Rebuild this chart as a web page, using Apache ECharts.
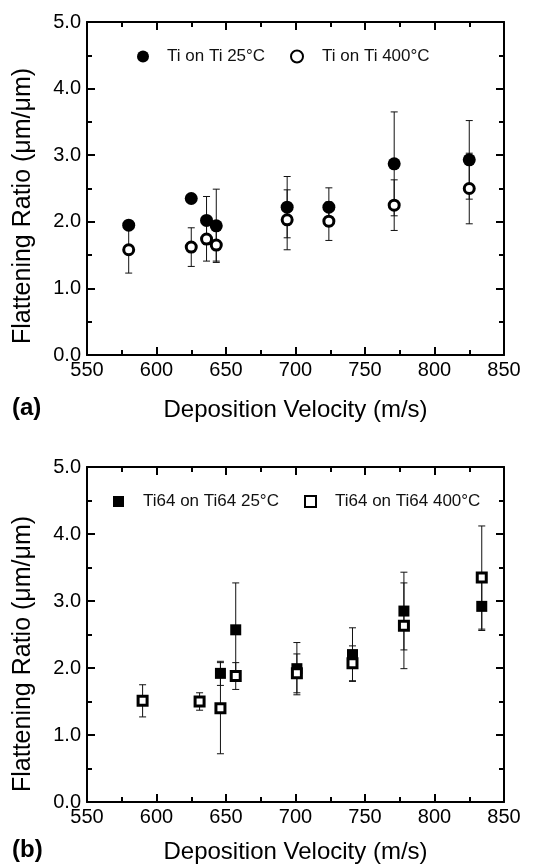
<!DOCTYPE html>
<html>
<head>
<meta charset="utf-8">
<script src="https://cdn.jsdelivr.net/npm/echarts@6/dist/echarts.min.js"></script>
<style>
  html, body { margin: 0; padding: 0; background: #fff; }
  #chart { width: 548px; height: 867px; }
</style>
</head>
<body>
<div id="chart"></div>
<script>
// (a) Ti on Ti
const tiVel = [580, 625, 636, 643, 694, 724, 771, 825];
const tiRatio25 = [1.95, 2.35, 2.02, 1.94, 2.22, 2.22, 2.87, 2.93];
const tiErr25 = [0.05, 0.05, 0.36, 0.55, 0.46, 0.29, 0.78, 0.59];
const tiRatio400 = [1.58, 1.62, 1.74, 1.65, 2.03, 2.01, 2.25, 2.50];
const tiErr400 = [0.35, 0.29, 0.33, 0.24, 0.45, 0.29, 0.38, 0.53];

// (b) Ti64 on Ti64
const ti64Vel25 = [646, 657, 701, 741, 778, 834];
const ti64Ratio25 = [1.92, 2.57, 1.99, 2.20, 2.85, 2.92];
const ti64Err25 = [0.18, 0.70, 0.39, 0.40, 0.58, 0.36];
const ti64Vel400 = [590, 631, 646, 657, 701, 741, 778, 834];
const ti64Ratio400 = [1.51, 1.50, 1.40, 1.88, 1.92, 2.07, 2.63, 3.35];
const ti64Err400 = [0.24, 0.13, 0.68, 0.20, 0.29, 0.26, 0.64, 0.77];

const names = ['Ti on Ti 25°C', 'Ti on Ti 400°C', 'Ti64 on Ti64 25°C', 'Ti64 on Ti64 400°C'];
const xTitle = 'Deposition Velocity (m/s)';
const yTitle = 'Flattening Ratio (μm/μm)';

const font = 'Liberation Sans, Arial, sans-serif';

const pts = (xs, ys) => xs.map((x, i) => [x, ys[i]]);
const bars = (xs, ys, es) => xs.map((x, i) => [x, ys[i] - es[i], ys[i] + es[i]]);

function errorBar(params, api) {
  const x = api.value(0);
  const lo = api.coord([x, api.value(1)]);
  const hi = api.coord([x, api.value(2)]);
  const w = 3.5;
  const st = { stroke: '#111', lineWidth: 1 };
  return {
    type: 'group',
    children: [
      { type: 'line', shape: { x1: lo[0], y1: lo[1], x2: hi[0], y2: hi[1] }, style: st },
      { type: 'line', shape: { x1: lo[0] - w, y1: lo[1], x2: lo[0] + w, y2: lo[1] }, style: st },
      { type: 'line', shape: { x1: hi[0] - w, y1: hi[1], x2: hi[0] + w, y2: hi[1] }, style: st }
    ]
  };
}

const tickStyle = { color: '#000', width: 2 };
function xAx(gi, pos, labels) {
  return {
    type: 'value', gridIndex: gi, position: pos, min: 550, max: 850, interval: 50,
    axisLine: { onZero: false, lineStyle: { color: '#000', width: 2 } },
    axisTick: { inside: true, length: 8, lineStyle: tickStyle },
    minorTick: { show: true, splitNumber: 2, length: 5, lineStyle: tickStyle },
    splitLine: { show: false },
    axisLabel: { show: labels, margin: 5, fontSize: 20, color: '#000', fontFamily: font },
    name: labels ? xTitle : '', nameLocation: 'middle', nameGap: gi === 0 ? 43 : 38,
    nameTextStyle: { fontSize: 24, color: '#000', fontFamily: font }
  };
}
function yAx(gi, pos, labels) {
  return {
    type: 'value', gridIndex: gi, position: pos, min: 0, max: 5, interval: 1,
    axisLine: { onZero: false, lineStyle: { color: '#000', width: 2 } },
    axisTick: { inside: true, length: 8, lineStyle: tickStyle },
    minorTick: { show: true, splitNumber: 2, length: 5, lineStyle: tickStyle },
    splitLine: { show: false },
    axisLabel: { show: labels, margin: 6, fontSize: 20, color: '#000', fontFamily: font,
      formatter: v => v.toFixed(1) }
  };
}

const filled = { color: '#000', opacity: 1 };
const open = { color: '#fff', borderColor: '#000', borderWidth: 3, opacity: 1 };

const chart = echarts.init(document.getElementById('chart'));
chart.setOption({
  animation: false,
  backgroundColor: '#fff',
  grid: [
    { left: 87, top: 22, width: 417, height: 333 },
    { left: 87, top: 467, width: 417, height: 335 }
  ],
  xAxis: [xAx(0, 'bottom', true), xAx(0, 'top', false), xAx(1, 'bottom', true), xAx(1, 'top', false)],
  yAxis: [yAx(0, 'left', true), yAx(0, 'right', false), yAx(1, 'left', true), yAx(1, 'right', false)],
  legend: [
    { data: [names[0]], left: 132, top: 43, itemWidth: 12, itemHeight: 12, pad: 13 },
    { data: [names[1]], left: 285, top: 43, itemWidth: 12, itemHeight: 12, pad: 14 },
    { data: [names[2]], left: 108, top: 488, itemWidth: 11, itemHeight: 11, pad: 14 },
    { data: [names[3]], left: 299, top: 488, itemWidth: 11, itemHeight: 11, pad: 14 }
  ].map(l => {
    const p = l.pad;
    delete l.pad;
    return Object.assign(l, {
      textStyle: { fontSize: 17, color: '#111', fontFamily: font, padding: [0, 0, 0, p] },
      selectedMode: false
    });
  }),
  graphic: [
    { type: 'text', x: 23, y: 206, rotation: Math.PI / 2,
      style: { text: yTitle, fontSize: 25, fill: '#000', fontFamily: font, align: 'center', verticalAlign: 'middle' } },
    { type: 'text', x: 23, y: 654, rotation: Math.PI / 2,
      style: { text: yTitle, fontSize: 25, fill: '#000', fontFamily: font, align: 'center', verticalAlign: 'middle' } },
    { type: 'text', left: 12, top: 396,
      style: { text: '(a)', fontSize: 24, fontWeight: 'bold', fill: '#000', fontFamily: font } },
    { type: 'text', left: 12, top: 838,
      style: { text: '(b)', fontSize: 24, fontWeight: 'bold', fill: '#000', fontFamily: font } }
  ],
  series: [
    { type: 'custom', xAxisIndex: 0, yAxisIndex: 0, renderItem: errorBar, data: bars(tiVel, tiRatio25, tiErr25), z: 1 },
    { type: 'custom', xAxisIndex: 0, yAxisIndex: 0, renderItem: errorBar, data: bars(tiVel, tiRatio400, tiErr400), z: 1 },
    { type: 'custom', xAxisIndex: 2, yAxisIndex: 2, renderItem: errorBar, data: bars(ti64Vel25, ti64Ratio25, ti64Err25), z: 1 },
    { type: 'custom', xAxisIndex: 2, yAxisIndex: 2, renderItem: errorBar, data: bars(ti64Vel400, ti64Ratio400, ti64Err400), z: 1 },
    { name: names[0], type: 'scatter', xAxisIndex: 0, yAxisIndex: 0, symbol: 'circle', symbolSize: 13,
      itemStyle: filled, data: pts(tiVel, tiRatio25), z: 3 },
    { name: names[1], type: 'scatter', xAxisIndex: 0, yAxisIndex: 0, symbol: 'circle', symbolSize: 10,
      itemStyle: open, data: pts(tiVel, tiRatio400), z: 4 },
    { name: names[2], type: 'scatter', xAxisIndex: 2, yAxisIndex: 2, symbol: 'rect', symbolSize: 11,
      itemStyle: filled, data: pts(ti64Vel25, ti64Ratio25), z: 3 },
    { name: names[3], type: 'scatter', xAxisIndex: 2, yAxisIndex: 2, symbol: 'rect', symbolSize: 9,
      itemStyle: open, data: pts(ti64Vel400, ti64Ratio400), z: 4 }
  ]
});
</script>
</body>
</html>
